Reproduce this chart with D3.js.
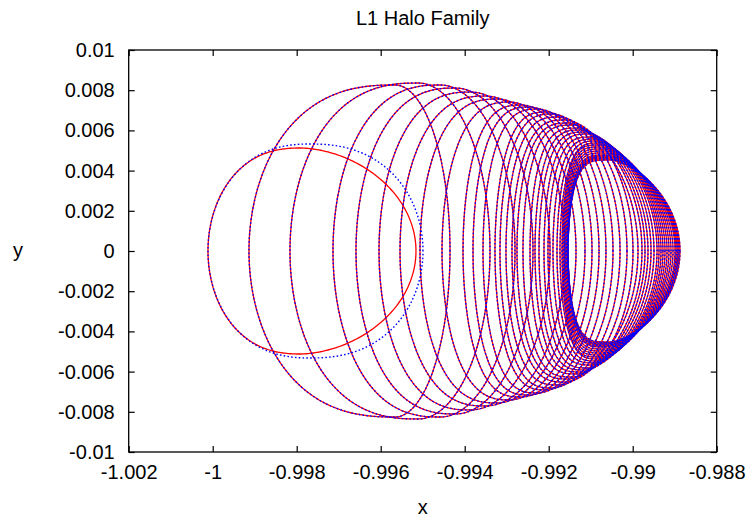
<!DOCTYPE html>
<html><head><meta charset="utf-8">
<script src="https://cdn.jsdelivr.net/npm/d3@7"></script>
<style>
body{margin:0;background:#fff}
text{font-family:"Liberation Sans",Arial,sans-serif;fill:#000}
</style>
</head><body>
<svg id="chart" width="752" height="520"></svg>
<script>
// ---- axis ticks ----
const xTicks = [-1.002, -1, -0.998, -0.996, -0.994, -0.992, -0.99, -0.988];
const xTickLabels = ["-1.002", "-1", "-0.998", "-0.996", "-0.994", "-0.992", "-0.99", "-0.988"];
const yTicks = [-0.01, -0.008, -0.006, -0.004, -0.002, 0, 0.002, 0.004, 0.006, 0.008, 0.01];
const yTickLabels = ["-0.01", "-0.008", "-0.006", "-0.004", "-0.002", "0", "0.002", "0.004", "0.006", "0.008", "0.01"];

// ---- L1 halo family (xy projection), smallest orbit first, last = final orbit ----
// x of leftmost point, x at max y, x of rightmost point, max |y|
const orbitLeftX = [-0.991540, -0.991540, -0.991540, -0.991540, -0.991564, -0.991564, -0.991588, -0.991612,
  -0.991636, -0.991660, -0.991683, -0.991731, -0.991802, -0.991898, -0.992017, -0.992112, -0.992231, -0.992326,
  -0.992445, -0.992612, -0.992755, -0.992874, -0.993017, -0.993160, -0.993279, -0.993564, -0.993802, -0.994040,
  -0.994540, -0.995064, -0.995540, -0.996040, -0.996588, -0.997136, -0.998160, -0.999136, -1.000112];
const orbitTopX = [-0.990540, -0.990564, -0.990588, -0.990588, -0.990612, -0.990636, -0.990660, -0.990683,
  -0.990707, -0.990731, -0.990755, -0.990802, -0.990850, -0.990898, -0.990969, -0.991040, -0.991112, -0.991207,
  -0.991302, -0.991398, -0.991517, -0.991636, -0.991779, -0.991921, -0.992064, -0.992255, -0.992445, -0.992636,
  -0.992921, -0.993207, -0.993517, -0.993874, -0.994231, -0.994588, -0.995112, -0.995660, -0.997921];
const orbitRightX = [-0.988874, -0.988898, -0.988921, -0.988945, -0.988969, -0.988993, -0.989040, -0.989088,
  -0.989136, -0.989183, -0.989231, -0.989279, -0.989326, -0.989374, -0.989421, -0.989493, -0.989564, -0.989636,
  -0.989707, -0.989779, -0.989874, -0.989993, -0.990136, -0.990302, -0.990469, -0.990636, -0.990802, -0.990969,
  -0.991136, -0.991350, -0.991612, -0.991969, -0.992374, -0.992802, -0.993398, -0.994350, -0.995160];
const orbitMaxY = [0.004527, 0.004577, 0.004627, 0.004677, 0.004726, 0.004776, 0.004876, 0.004975,
  0.005075, 0.005174, 0.005274, 0.005373, 0.005473, 0.005572, 0.005672, 0.005821, 0.005920, 0.006020,
  0.006119, 0.006269, 0.006368, 0.006517, 0.006667, 0.006816, 0.006915, 0.007065, 0.007164, 0.007264,
  0.007413, 0.007562, 0.007711, 0.007910, 0.008109, 0.008259, 0.008358, 0.008259, 0.005124];
// roundness of the left / right halves of each orbit
const orbitLeftShape = [0.5, 0.5, 0.5, 0.5, 0.5, 0.5, 0.5, 0.5, 0.5, 0.5, 0.5, 0.6, 0.6, 0.6, 0.6, 0.6, 0.6, 0.6,
  0.6, 0.6, 0.65, 0.7, 0.7, 0.7, 0.7, 0.7, 0.7, 0.7, 0.75, 0.75, 0.8, 0.8, 0.8, 0.8, 0.8, 0.8, 0.85];
const orbitRightShape = [1.3, 1.3, 1.3, 1.3, 1.3, 1.3, 1.3, 1.3, 1.3, 1.3, 1.3, 1.3, 1.3, 1.3, 1.3, 1.3, 1.3, 1.3,
  1.3, 1.3, 1.3, 1.1, 1.1, 1.1, 1.1, 1.1, 1.1, 1.1, 1.1, 1.1, 1.0, 1.0, 1.0, 1.0, 1.0, 1.0, 1.1];
// second (blue dotted) solution differs only on the final orbit: [leftX, topX, rightX, maxY, leftShape, rightShape]
const blueFinalOrbit = [-1.000112, -0.997683, -0.994993, 0.005323, 0.85, 0.85];

// ---- layout ----
const plotL = 128.7, plotR = 716.7, plotT = 50, plotB = 452;
const svg = d3.select("#chart");
const x = d3.scaleLinear().domain([-1.002, -0.988]).range([plotL, plotR]);
const y = d3.scaleLinear().domain([-0.01, 0.01]).range([plotB, plotT]);

function orbitPoints(L, T, R, Y, pL, pR) {
  const pts = [];
  const n = 360;
  for (let i = 0; i <= n; i++) {
    const t = 2 * Math.PI * i / n;
    const c = Math.cos(t), s = Math.sin(t);
    const xx = c >= 0 ? T + (R - T) * Math.pow(c, pR) : T - (T - L) * Math.pow(-c, pL);
    pts.push([xx, Y * s]);
  }
  return pts;
}
const line = d3.line().x(d => x(d[0])).y(d => y(d[1]));

const redOrbits = orbitLeftX.map((L, i) =>
  orbitPoints(L, orbitTopX[i], orbitRightX[i], orbitMaxY[i], orbitLeftShape[i], orbitRightShape[i]));
const blueOrbits = orbitLeftX.map((L, i) => i === orbitLeftX.length - 1
  ? orbitPoints(...blueFinalOrbit)
  : orbitPoints(L, orbitTopX[i], orbitRightX[i], orbitMaxY[i], orbitLeftShape[i], orbitRightShape[i]));

const g = svg.append("g");
g.selectAll("path.red").data(redOrbits).enter().append("path")
  .attr("class", "red").attr("d", line)
  .attr("fill", "none").attr("stroke", "#ff0000").attr("stroke-width", 1.3);
g.selectAll("path.blue").data(blueOrbits).enter().append("path")
  .attr("class", "blue").attr("d", line)
  .attr("fill", "none").attr("stroke", "#0000ff").attr("stroke-width", 1.4)
  .attr("stroke-dasharray", "1.6,2.2");

// ---- frame and ticks (gnuplot style, mirrored, inward) ----
const tickLen = 6;
const axisCol = "#000";
svg.append("rect").attr("x", plotL).attr("y", plotT)
  .attr("width", plotR - plotL).attr("height", plotB - plotT)
  .attr("fill", "none").attr("stroke", axisCol).attr("stroke-width", 1.3);

const axB = d3.axisBottom(x).tickValues(xTicks).tickSize(-tickLen).tickFormat((d, i) => xTickLabels[i]).tickPadding(13);
const axT = d3.axisTop(x).tickValues(xTicks).tickSize(-tickLen).tickFormat("");
const axLf = d3.axisLeft(y).tickValues(yTicks).tickSize(-tickLen).tickFormat((d, i) => yTickLabels[i]).tickPadding(14);
const axRt = d3.axisRight(y).tickValues(yTicks).tickSize(-tickLen).tickFormat("");

function styleAxis(sel) {
  sel.select(".domain").remove();
  sel.selectAll(".tick line").attr("stroke", axisCol).attr("stroke-width", 1.2);
  sel.selectAll(".tick text").style("font-family", '"Liberation Sans",Arial,sans-serif')
    .style("font-size", "20px").attr("fill", "#000");
}
svg.append("g").attr("transform", `translate(0,${plotB})`).call(axB).call(styleAxis);
svg.append("g").attr("transform", `translate(0,${plotT})`).call(axT).call(styleAxis);
svg.append("g").attr("transform", `translate(${plotL},0)`).call(axLf).call(styleAxis);
svg.append("g").attr("transform", `translate(${plotR},0)`).call(axRt).call(styleAxis);

// ---- titles ----
svg.append("text").attr("x", (plotL + plotR) / 2).attr("y", 25).attr("text-anchor", "middle")
  .style("font-size", "20px").text("L1 Halo Family");
svg.append("text").attr("x", (plotL + plotR) / 2).attr("y", 514).attr("text-anchor", "middle")
  .style("font-size", "20px").text("x");
svg.append("text").attr("x", 18).attr("y", 257).attr("text-anchor", "middle")
  .style("font-size", "20px").text("y");
</script>
</body></html>
